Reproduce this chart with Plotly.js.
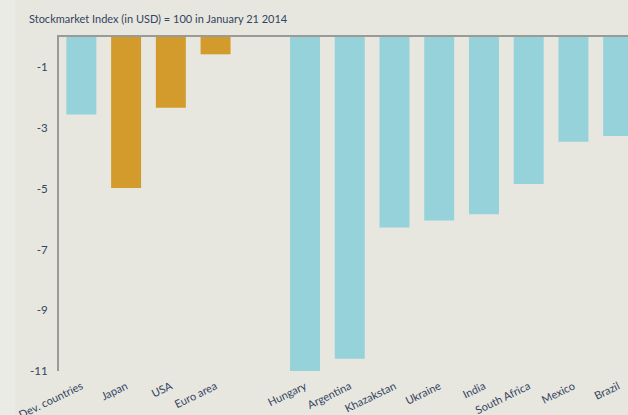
<!DOCTYPE html>
<html>
<head>
<meta charset="utf-8">
<script src="https://cdn.plot.ly/plotly-3.0.1.min.js"></script>
<style>html,body{margin:0;padding:0;background:#e7e7e0;}#chart{width:628px;height:415px;}</style>
</head>
<body>
<div id="chart"></div>
<script>
// Categories (empty string = gap between groups)
const categories = ["Dev. countries","Japan","USA","Euro area","","Hungary","Argentina","Khazakstan","Ukraine","India","South Africa","Mexico","Brazil"];
const values = [-2.55,-4.97,-2.33,-0.57,null,-11.02,-10.6,-6.27,-6.04,-5.84,-4.84,-3.45,-3.26];
const groups = ["blue","gold","gold","gold",null,"blue","blue","blue","blue","blue","blue","blue","blue"];
const yTicks = [-1,-3,-5,-7,-9,-11];
const titleText = "Stockmarket Index (in USD) = 100 in January 21 2014";

const colorMap = {blue:"#96d2da", gold:"#d39b2b"};
const idx = categories.map((c,i)=>i);
const txtColor = "#34435f";

const trace = {
  type:"bar",
  x: idx,
  y: values,
  marker:{color: groups.map(g=>g?colorMap[g]:"rgba(0,0,0,0)"), line:{width:0}},
  width: 0.67,
  hoverinfo:"skip"
};

const layout = {
  width:628, height:415,
  paper_bgcolor:"#e7e7e0",
  plot_bgcolor:"#e7e7e0",
  margin:{l:59,r:0,t:37,b:44},
  showlegend:false,
  font:{family:"Lato, 'Open Sans', sans-serif", color:txtColor, size:11},
  annotations:[{text:titleText, xref:"paper", yref:"paper", x:-32/569, xanchor:"left", y:1+18/334, yanchor:"middle", showarrow:false, font:{size:11, color:txtColor}}],
  xaxis:{
    range:[-0.5, 12.22],
    tickmode:"array", tickvals: idx, ticktext: categories,
    ticks:"", showgrid:false, zeroline:false,
    showline:true, linecolor:"#9a9a96", linewidth:2, side:"top",
    showticklabels:false, fixedrange:true
  },
  xaxis2:{
    overlaying:"x", matches:"x", range:[-0.5,12.22],
    tickmode:"array", tickvals: idx, ticktext: categories,
    tickangle:-26, ticks:"", showgrid:false, zeroline:false, showline:false,
    ticklabelstandoff:6,
    tickfont:{size:11, color:txtColor}, side:"bottom"
  },
  yaxis:{
    range:[-11,0], tickmode:"array", tickvals:yTicks, ticktext:yTicks.map(String),
    showgrid:false, zeroline:false, showline:true, linecolor:"#9a9a96", linewidth:2,
    ticks:"", ticklabelstandoff:7, tickfont:{size:11.5, color:txtColor}
  },
  shapes:[{type:"rect", xref:"paper", yref:"paper", x0:-59/569, x1:-44/569, y0:-44/334, y1:1+37/334, fillcolor:"#ebebe6", line:{width:0}, layer:"below"}]
};

const dummy = {type:"scatter", x:[0], y:[null], xaxis:"x2", yaxis:"y", hoverinfo:"skip"};

Plotly.newPlot("chart",[trace, dummy],layout,{displayModeBar:false, staticPlot:true});
</script>
</body>
</html>
